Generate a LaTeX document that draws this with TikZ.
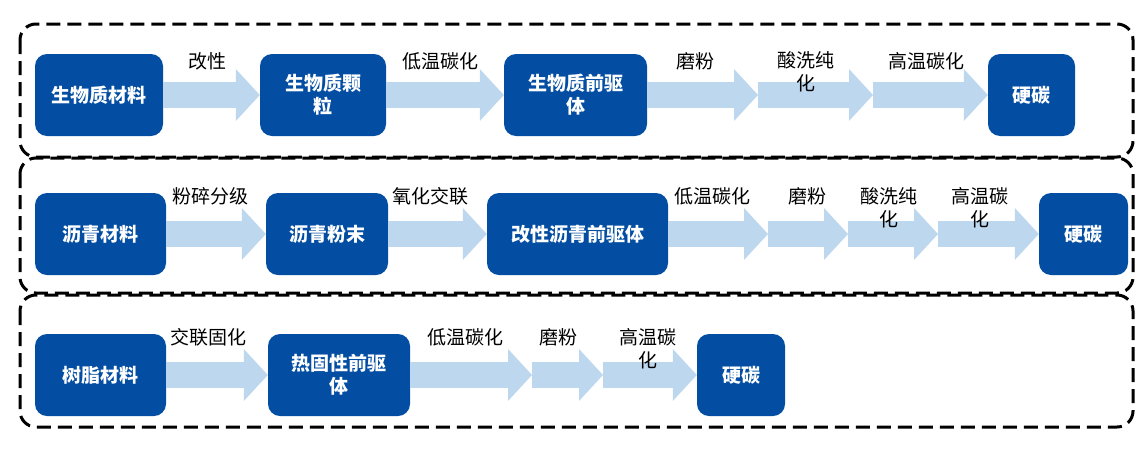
\documentclass[tikz,border=0pt]{standalone}
\usepackage{fontspec}
\setmainfont{Noto Sans CJK SC}
\usetikzlibrary{arrows.meta}

\newlength{\du}
\setlength{\du}{1pt}
\definecolor{boxcolor}{rgb}{0.011765, 0.305882, 0.635294}
\definecolor{flowcolor}{rgb}{0.741176, 0.843137, 0.933333}

\tikzset{
  stepbox/.style={rounded corners=12\du, fill=boxcolor, text=white, inner sep=0pt,
    minimum height=82\du, align=center, font=\fontsize{19}{23}\selectfont\bfseries},
  flowarrow/.style={draw=flowcolor, line width=26\du,
    -{Triangle[width=52pt,length=24pt,line width=0pt]}},
  steplabel/.style={anchor=north, align=center, inner sep=0pt,
    font=\fontsize{19}{23}\selectfont},
  rowframe/.style={line width=3\du, dash pattern=on 14pt off 7pt, rounded corners=16\du},
}

\begin{document}
\begin{tikzpicture}
\pgftransformxscale{1.000000}
\pgftransformyscale{-1.000000}
\useasboundingbox (0\du,0\du) rectangle (1147\du,453\du);
% dashed frames
\draw[rowframe] (20\du,24\du) rectangle (1133\du,157\du);
\draw[rowframe] (20\du,158\du) rectangle (1133\du,293\du);
\draw[rowframe] (20\du,295\du) rectangle (1133\du,427\du);
% row 1
\node[stepbox, minimum width=128\du] (bioraw) at (99\du,95\du) {生物质材料};
\node[stepbox, minimum width=126\du] (biogran) at (323\du,95\du) {生物质颗\\粒};
\node[stepbox, minimum width=143\du] (bioprec) at (575.5\du,95\du) {生物质前驱\\体};
\node[stepbox, minimum width=87\du] (biohc) at (1031.5\du,95\du) {硬碳};
\coordinate (bioj1) at (758\du,95\du);
\coordinate (bioj2) at (873\du,95\du);
\draw[flowarrow] (bioraw.east) -- (biogran.west);
\draw[flowarrow] (biogran.east) -- (bioprec.west);
\draw[flowarrow] (bioprec.east) -- (bioj1);
\draw[flowarrow] (bioj1) -- (bioj2);
\draw[flowarrow] (bioj2) -- (biohc.west);
\node[steplabel] (biol1) at (207\du,52\du) {改性};
\node[steplabel] (biol2) at (440\du,52\du) {低温碳化};
\node[steplabel] (biol3) at (695\du,52\du) {磨粉};
\node[steplabel] (biol4) at (806\du,51\du) {酸洗纯\\化};
\node[steplabel] (biol5) at (926\du,52\du) {高温碳化};
% row 2
\node[stepbox, minimum width=131\du] (pitchraw) at (100.5\du,234\du) {沥青材料};
\node[stepbox, minimum width=122\du] (pitchpow) at (327\du,234\du) {沥青粉末};
\node[stepbox, minimum width=181\du] (pitchprec) at (577.5\du,234\du) {改性沥青前驱体};
\node[stepbox, minimum width=89\du] (pitchhc) at (1083.5\du,234\du) {硬碳};
\coordinate (pitchj1) at (768\du,234\du);
\coordinate (pitchj2) at (848\du,234\du);
\coordinate (pitchj3) at (938\du,234\du);
\draw[flowarrow] (pitchraw.east) -- (pitchpow.west);
\draw[flowarrow] (pitchpow.east) -- (pitchprec.west);
\draw[flowarrow] (pitchprec.east) -- (pitchj1);
\draw[flowarrow] (pitchj1) -- (pitchj2);
\draw[flowarrow] (pitchj2) -- (pitchj3);
\draw[flowarrow] (pitchj3) -- (pitchhc.west);
\node[steplabel] (pitchl1) at (210\du,187\du) {粉碎分级};
\node[steplabel] (pitchl2) at (430\du,187\du) {氧化交联};
\node[steplabel] (pitchl3) at (712\du,187\du) {低温碳化};
\node[steplabel] (pitchl4) at (807\du,187\du) {磨粉};
\node[steplabel] (pitchl5) at (889\du,187\du) {酸洗纯\\化};
\node[steplabel] (pitchl6) at (980\du,187\du) {高温碳\\化};
% row 3
\node[stepbox, minimum width=131\du] (resinraw) at (100.5\du,375\du) {树脂材料};
\node[stepbox, minimum width=142\du] (resinprec) at (339\du,375\du) {热固性前驱\\体};
\node[stepbox, minimum width=88\du] (resinhc) at (741\du,375\du) {硬碳};
\coordinate (resinj1) at (532\du,375\du);
\coordinate (resinj2) at (603\du,375\du);
\draw[flowarrow] (resinraw.east) -- (resinprec.west);
\draw[flowarrow] (resinprec.east) -- (resinj1);
\draw[flowarrow] (resinj1) -- (resinj2);
\draw[flowarrow] (resinj2) -- (resinhc.west);
\node[steplabel] (resinl1) at (208\du,328.5\du) {交联固化};
\node[steplabel] (resinl2) at (465\du,328.5\du) {低温碳化};
\node[steplabel] (resinl3) at (558\du,328.5\du) {磨粉};
\node[steplabel] (resinl4) at (648\du,328.5\du) {高温碳\\化};
\end{tikzpicture}
\end{document}
